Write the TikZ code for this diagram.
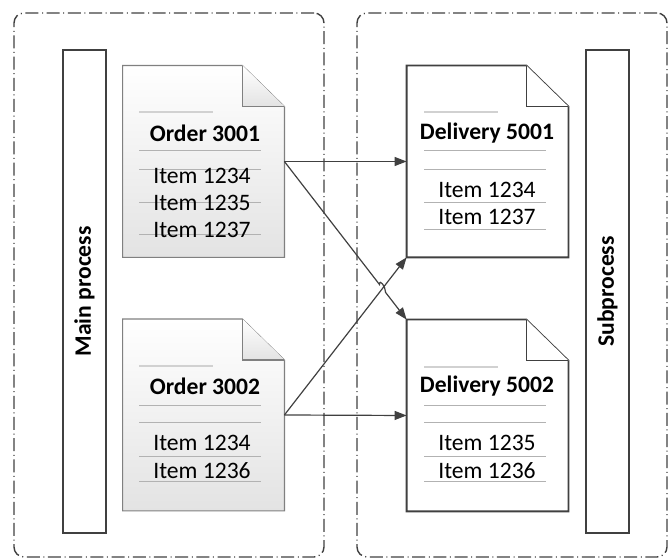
\documentclass[tikz,border=0pt]{standalone}
\usepackage{fontspec}
\setmainfont{Carlito}
\usetikzlibrary{arrows.meta,calc}

\tikzset{
	lane/.style={draw=black!75, line width=0.7pt, dash pattern=on 6.5pt off 1.8pt on 0.5pt off 1.8pt, rounded corners=5pt, minimum width=155pt, minimum height=272pt, inner sep=0pt},
	bar/.style={draw=black!75, line width=1.1pt, fill=white, minimum width=21.5pt, minimum height=241.5pt, inner sep=0pt},
	docbox/.style={minimum width=80.5pt, minimum height=95.5pt, inner sep=0pt},
	orderdoc/.style={draw=black!50, line width=0.6pt, top color=white, bottom color=black!11},
	deliverydoc/.style={draw=black!75, line width=0.9pt, fill=white},
	title/.style={font=\fontsize{11.8}{13}\selectfont\bfseries, inner sep=0pt},
	item/.style={font=\fontsize{11.8}{13}\selectfont, inner sep=0pt},
	sep/.style={draw=black!30, line width=0.5pt},
	short/.style={draw=black!18, line width=0.6pt},
	flow/.style={draw=black!75, line width=0.6pt, -{Triangle[length=6pt,width=4.5pt]}},
}

\newcommand{\DocOutline}[2]{
	\draw[#2] (#1.north west) -- ([xshift=-21pt]#1.north east) -- ([yshift=-20.5pt]#1.north east) -- (#1.south east) -- (#1.south west) -- cycle;
	\draw[#2, fill=white] ([xshift=-21pt]#1.north east) |- ([yshift=-20.5pt]#1.north east);
}

\begin{document}
\begin{tikzpicture}[x=0.5pt, y=-0.5pt]
				\useasboundingbox (0,0) rectangle (671,560);
				\node[lane] (L) at (169,285) {};
				\node[lane] (R) at (512,285) {};
				\node[bar] (M) at (84.5,291.5) {};
				\node[title, rotate=90] (Mt) at (M) {Main process};
				\node[bar] (S) at (607.5,291.5) {};
				\node[title, rotate=90] (St) at (S) {Subprocess};
				\node[docbox] (O1) at (203.5,161.5) {};
				\node[docbox] (O2) at (203.5,415) {};
				\node[docbox] (D1) at (487.5,161.5) {};
				\node[docbox] (D2) at (487.5,415.5) {};
				\DocOutline{O1}{orderdoc}
				\DocOutline{O2}{orderdoc}
				\DocOutline{D1}{deliverydoc}
				\DocOutline{D2}{deliverydoc}
				\draw[short] (139,112) -- (213,112);
				\draw[short] (139,366) -- (213,366);
				\draw[short] (424,112) -- (498,112);
				\draw[short] (424,367) -- (498,367);
				\foreach \y in {151,170,203,235} \draw[sep] (139,\y) -- (261,\y);
				\foreach \y in {406,423,457,482} \draw[sep] (139,\y) -- (261,\y);
				\foreach \y in {151,170,203,230} \draw[sep] (424,\y) -- (546,\y);
				\foreach \y in {406,423,457,482} \draw[sep] (424,\y) -- (546,\y);
				\node[title] (O1t) at (205,133) {Order 3001};
				\node[item] (O1a) at (202,176) {Item 1234};
				\node[item] (O1b) at (202,203) {Item 1235};
				\node[item] (O1c) at (202,230) {Item 1237};
				\node[title] (O2t) at (205,386) {Order 3002};
				\node[item] (O2a) at (202,443) {Item 1234};
				\node[item] (O2b) at (202,471) {Item 1236};
				\node[title] (D1t) at (487,133) {Delivery 5001};
				\node[item] (D1a) at (487,190) {Item 1234};
				\node[item] (D1b) at (487,217) {Item 1237};
				\node[title] (D2t) at (487,386) {Delivery 5002};
				\node[item] (D2a) at (487,443) {Item 1235};
				\node[item] (D2b) at (487,471) {Item 1236};
				\coordinate (X) at (intersection of O1.east--D2.north west and O2.east--D1.south west);
				\draw[flow] (O1.east) -- (D1.west);
				\draw[flow] (O2.east) -- (D2.west);
				\draw[flow] (O2.east) -- (D1.south west);
				\draw[flow] (O1.east) -- ($(X)!2.5pt!(O1.east)$) .. controls +(0,3pt) and +(0,3pt) .. ($(X)!2.5pt!(D2.north west)$) -- (D2.north west);
			\end{tikzpicture}
\end{document}
